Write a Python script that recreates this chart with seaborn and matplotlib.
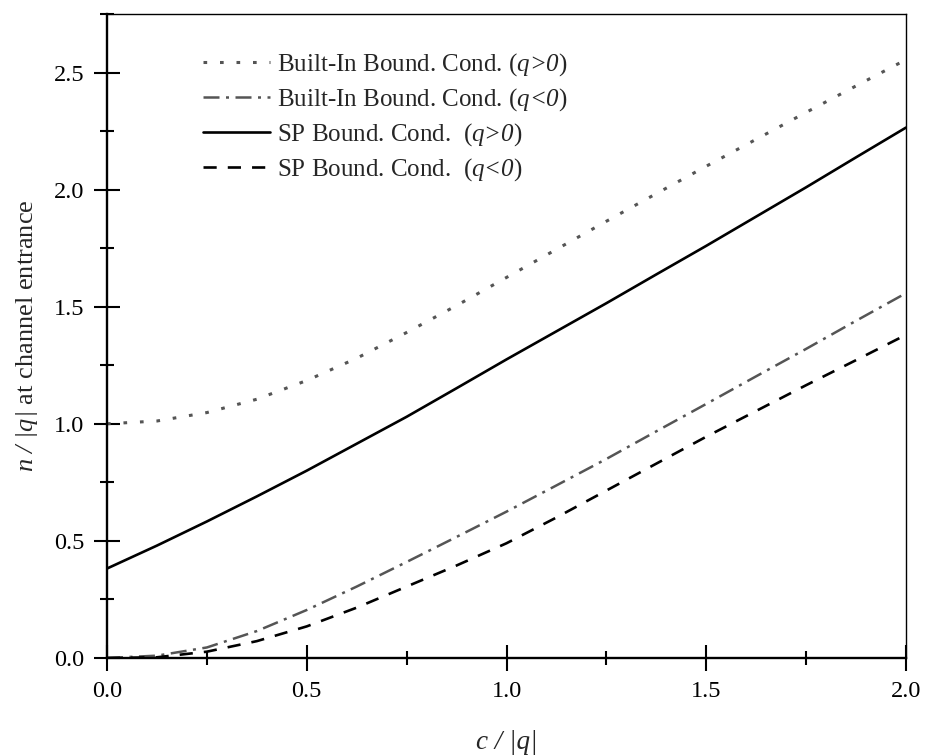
import numpy as np
import pandas as pd
import seaborn as sns
import matplotlib
matplotlib.use("Agg")
import matplotlib.pyplot as plt
from matplotlib.ticker import MultipleLocator, FormatStrFormatter

# c / |q| sample positions
c_vals = [0.0, 0.125, 0.25, 0.375, 0.5, 0.625, 0.75, 0.875, 1.0,
          1.125, 1.25, 1.375, 1.5, 1.625, 1.75, 1.875, 2.0]

# n / |q| at channel entrance for each boundary condition
builtin_pos = [1.000, 1.012, 1.048, 1.105, 1.185, 1.280, 1.390, 1.505, 1.625,
               1.745, 1.865, 1.983, 2.100, 2.215, 2.330, 2.443, 2.555]
builtin_neg = [0.000, 0.010, 0.045, 0.115, 0.205, 0.305, 0.410, 0.517, 0.625,
               0.737, 0.850, 0.968, 1.085, 1.203, 1.320, 1.440, 1.558]
sp_pos = [0.382, 0.480, 0.583, 0.690, 0.800, 0.915, 1.030, 1.152, 1.275,
          1.395, 1.515, 1.638, 1.760, 1.885, 2.010, 2.138, 2.265]
sp_neg = [0.000, 0.003, 0.027, 0.072, 0.135, 0.215, 0.305, 0.395, 0.490,
          0.600, 0.715, 0.830, 0.945, 1.055, 1.165, 1.272, 1.380]

labels = [r"Built-In Bound. Cond. ($\text{q>0}$)",
          r"Built-In Bound. Cond. ($\text{q<0}$)",
          r"SP Bound. Cond.  ($\text{q>0}$)",
          r"SP Bound. Cond.  ($\text{q<0}$)"]

x_ticks = [0.0, 0.5, 1.0, 1.5, 2.0]
y_ticks = [0.0, 0.5, 1.0, 1.5, 2.0, 2.5]

sns.set_theme(style="ticks")
plt.rcParams["font.family"] = ["Liberation Serif", "DejaVu Serif"]
# math text is used only for the italic symbols
plt.rcParams["mathtext.fontset"] = "custom"
plt.rcParams["mathtext.rm"] = "Liberation Serif:italic"
plt.rcParams["mathtext.it"] = "Liberation Serif:italic"
plt.rcParams["mathtext.bf"] = "Liberation Serif:bold"

fig = plt.figure(figsize=(9.27, 7.56), dpi=100)
ax = fig.add_axes([107 / 927, 98 / 756, 799 / 927, 644 / 756])

series = [
    (builtin_pos, "#555555", (0, (1.2, 4.2)), 2.2),
    (builtin_neg, "#555555", (0, (6.4, 2.6, 1.2, 2.6)), 1.8),
    (sp_pos, "black", "-", 1.9),
    (sp_neg, "black", (0, (5, 4.2)), 1.9),
]
for (vals, col, ls, lw), lab in zip(series, labels):
    df = pd.DataFrame({"c": c_vals, "n": vals})
    sns.lineplot(data=df, x="c", y="n", ax=ax, color=col, linestyle=ls,
                 linewidth=lw, label=lab, sort=True, errorbar=None)

ax.set_xlim(0, 2.0)
ax.set_ylim(0, 2.75)
ax.set_xticks(x_ticks)
ax.set_yticks(y_ticks)
ax.xaxis.set_minor_locator(MultipleLocator(0.25))
ax.yaxis.set_minor_locator(MultipleLocator(0.25))
ax.xaxis.set_major_formatter(FormatStrFormatter("%.1f"))
ax.yaxis.set_major_formatter(FormatStrFormatter("%.1f"))

ax.tick_params(axis="both", which="major", direction="inout", length=18.5,
               width=1.5, labelsize=17.5, color="black", labelcolor="black")
ax.tick_params(axis="both", which="minor", direction="inout", length=10,
               width=1.5, color="black")
ax.tick_params(axis="x", which="major", pad=7.5)
ax.tick_params(axis="y", which="major", pad=7)

for side in ["left", "bottom"]:
    ax.spines[side].set_linewidth(1.7)
    ax.spines[side].set_color("black")
for side in ["top", "right"]:
    ax.spines[side].set_visible(True)
    ax.spines[side].set_linewidth(1.0)
    ax.spines[side].set_color("black")

ax.set_xlabel("c / |q|", fontsize=19.5, fontstyle="italic", labelpad=20)
ax.set_ylabel(r"$\text{n / |q|}$ at channel entrance", fontsize=19,
              labelpad=10)

leg = ax.legend(loc="upper left", bbox_to_anchor=(0.12, 0.942), frameon=False,
                fontsize=18, handlelength=2.68, handletextpad=0.28,
                labelspacing=0.33, borderpad=0, borderaxespad=0)

fig.savefig("out.png", dpi=100, facecolor="white")
